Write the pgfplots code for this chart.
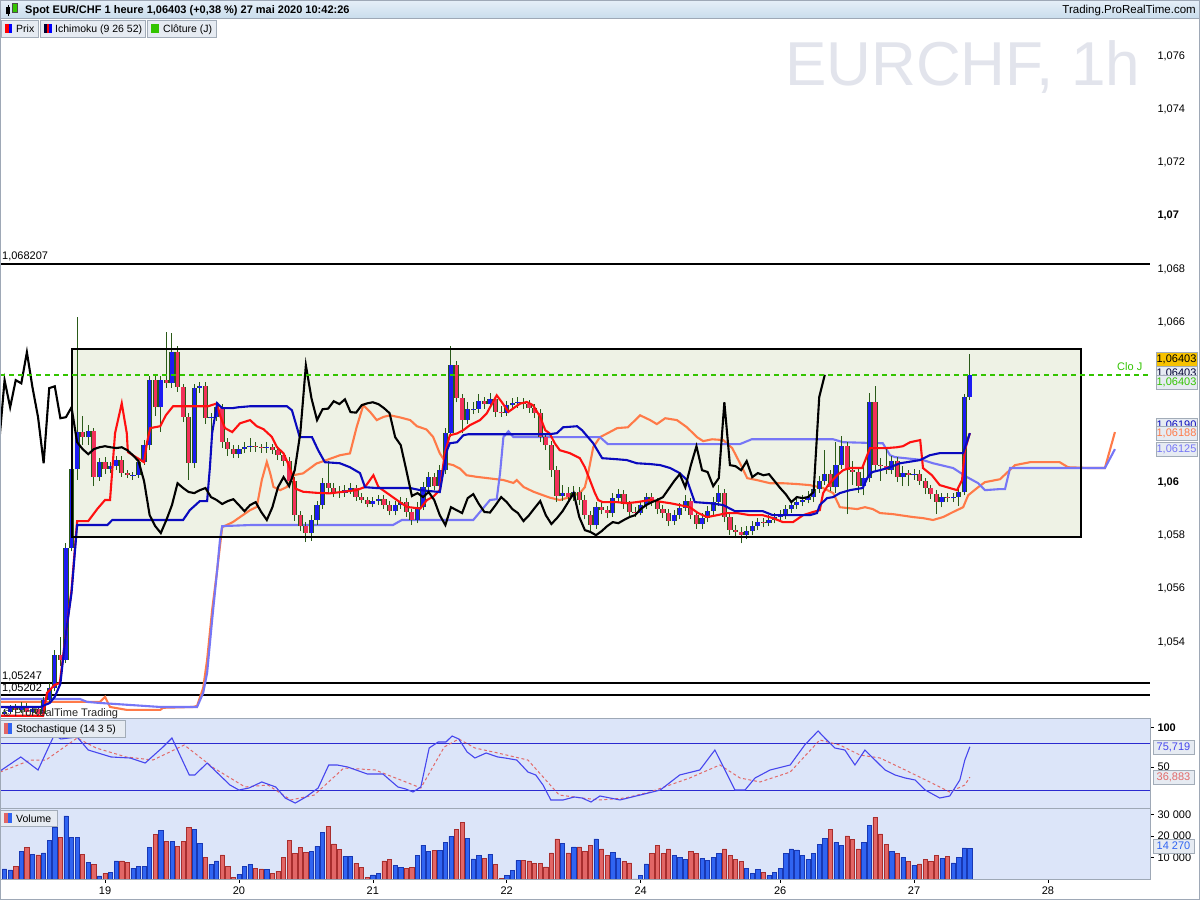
\documentclass[border=0pt]{standalone}
\usepackage{fontspec}
\setmainfont{Liberation Sans}
\usepackage{pgfplots}
\pgfplotsset{compat=1.18}
\usepackage{pgfplotstable}
\usepgfplotslibrary{fillbetween}
\newcommand\fs[1]{\fontsize{#1}{#1}\selectfont}

\definecolor{bgtop}{HTML}{F5F7FD}
\definecolor{bgbot}{HTML}{E2E9F9}
\definecolor{rectfill}{HTML}{EEF2E5}
\definecolor{cloud}{HTML}{DDE0EE}
\definecolor{cblue}{HTML}{1C1CF2}
\definecolor{cred}{HTML}{F2305A}
\definecolor{wick}{HTML}{2A5A18}
\definecolor{tenkan}{HTML}{FF1010}
\definecolor{kijun}{HTML}{0A0ABE}
\definecolor{ssa}{HTML}{FF7A48}
\definecolor{ssb}{HTML}{7676F6}
\definecolor{clo}{HTML}{33C400}
\definecolor{panelbg}{HTML}{DCE5F9}
\definecolor{frame}{HTML}{9EA8B6}
\definecolor{kcol}{HTML}{4646EE}
\definecolor{dcol}{HTML}{E26A6A}
\definecolor{lvl}{HTML}{2A2AD0}
\definecolor{vblue}{HTML}{3064F2}
\definecolor{vblueD}{HTML}{1838B4}
\definecolor{vred}{HTML}{E26666}
\definecolor{vredD}{HTML}{A82E2E}
\definecolor{hdrtop}{HTML}{E6EFF8}
\definecolor{hdrbot}{HTML}{C9DCEC}
\definecolor{boxfill}{HTML}{E6EBF2}
\definecolor{boxdraw}{HTML}{A2ACB8}
\definecolor{gold}{HTML}{F7C200}
\definecolor{wmark}{HTML}{E2E4EC}

% hourly bars: b = bar index (0 = 19 May 00:00), o h l c, d = 1 up / 0 down, v = volume
\pgfplotstableread{
b o h l c d v
-18 1.05130 1.05150 1.05118 1.05138 1 4650
-17 1.05138 1.05165 1.05128 1.05153 1 4200
-16 1.05153 1.05168 1.05135 1.05145 0 6000
-15 1.05145 1.05175 1.05132 1.05160 1 13000
-14 1.05160 1.05172 1.05125 1.05138 0 14700
-13 1.05138 1.05160 1.05126 1.05149 1 11500
-12 1.05149 1.05158 1.05118 1.05130 0 11200
-11 1.05130 1.05195 1.05122 1.05183 1 12100
-10 1.05183 1.05245 1.05170 1.05228 1 18000
-9 1.05228 1.05370 1.05215 1.05351 1 24000
-8 1.05351 1.05420 1.05310 1.05333 0 19400
-7 1.05333 1.05770 1.05320 1.05753 1 29300
-6 1.05753 1.06070 1.05740 1.06049 1 19400
-5 1.06049 1.06620 1.06010 1.06188 1 19400
-4 1.06188 1.06250 1.06140 1.06169 0 11500
-3 1.06169 1.06215 1.06140 1.06191 1 7800
-2 1.06191 1.06205 1.05985 1.06019 0 6800
-1 1.06019 1.06090 1.06005 1.06075 1 1400
0 1.06075 1.06095 1.06030 1.06049 0 2600
1 1.06049 1.06075 1.06035 1.06060 1 3100
2 1.06060 1.06100 1.06045 1.06083 1 8400
3 1.06083 1.06100 1.06020 1.06034 0 8400
4 1.06034 1.06045 1.06015 1.06026 0 7800
5 1.06026 1.06040 1.06010 1.06028 1 5000
6 1.06028 1.06090 1.06015 1.06075 1 5700
7 1.06075 1.06160 1.06065 1.06139 1 6000
8 1.06139 1.06400 1.06120 1.06383 1 14700
9 1.06383 1.06400 1.06250 1.06281 0 20800
10 1.06281 1.06400 1.06190 1.06383 1 22600
11 1.06383 1.06565 1.06355 1.06371 0 17300
12 1.06371 1.06560 1.06355 1.06488 1 17300
13 1.06488 1.06510 1.06340 1.06356 0 15200
14 1.06356 1.06370 1.06225 1.06244 0 17300
15 1.06244 1.06260 1.06010 1.06071 0 24000
16 1.06071 1.06370 1.06055 1.06353 1 23100
17 1.06353 1.06375 1.06335 1.06360 1 16600
18 1.06360 1.06375 1.06220 1.06240 0 9900
19 1.06240 1.06260 1.06180 1.06244 1 6800
20 1.06244 1.06300 1.06230 1.06281 1 8400
21 1.06281 1.06295 1.06130 1.06150 0 11200
22 1.06150 1.06165 1.06100 1.06124 0 5700
23 1.06124 1.06140 1.06090 1.06105 0 800
24 1.06105 1.06140 1.06090 1.06124 1 2200
25 1.06124 1.06150 1.06110 1.06131 1 5700
26 1.06131 1.06165 1.06115 1.06135 1 6800
27 1.06135 1.06150 1.06115 1.06131 0 5000
28 1.06131 1.06145 1.06110 1.06128 0 4650
29 1.06128 1.06150 1.06110 1.06131 1 4500
30 1.06131 1.06145 1.06105 1.06120 0 2600
31 1.06120 1.06135 1.06085 1.06101 0 3700
32 1.06101 1.06115 1.06060 1.06079 0 10100
33 1.06079 1.06095 1.05985 1.06004 0 18000
34 1.06004 1.06020 1.05855 1.05876 0 12000
35 1.05876 1.05890 1.05815 1.05835 0 14600
36 1.05835 1.05850 1.05775 1.05809 0 12400
37 1.05809 1.05875 1.05780 1.05858 1 13000
38 1.05858 1.05930 1.05840 1.05914 1 15200
39 1.05914 1.06015 1.05900 1.05996 1 21700
40 1.05996 1.06080 1.05960 1.05978 0 24500
41 1.05978 1.05995 1.05945 1.05963 0 16300
42 1.05963 1.05985 1.05940 1.05959 0 13800
43 1.05959 1.05990 1.05945 1.05970 1 10500
44 1.05970 1.05995 1.05955 1.05978 1 10500
45 1.05978 1.05990 1.05930 1.05944 0 7300
46 1.05944 1.05960 1.05920 1.05933 0 5400
47 1.05933 1.05945 1.05905 1.05918 0 800
48 1.05918 1.05945 1.05905 1.05929 1 1900
49 1.05929 1.05950 1.05915 1.05936 1 2600
50 1.05936 1.05950 1.05900 1.05914 0 8400
51 1.05914 1.05930 1.05875 1.05891 0 9200
52 1.05891 1.05930 1.05875 1.05914 1 6200
53 1.05914 1.05945 1.05900 1.05925 1 5400
54 1.05925 1.05940 1.05870 1.05888 0 5000
55 1.05888 1.05900 1.05840 1.05858 0 5400
56 1.05858 1.05925 1.05845 1.05906 1 11000
57 1.05906 1.06000 1.05895 1.05981 1 15800
58 1.05981 1.06040 1.05965 1.06019 1 12900
59 1.06019 1.06035 1.05970 1.05985 0 13300
60 1.05985 1.06065 1.05970 1.06045 1 13300
61 1.06045 1.06205 1.06030 1.06184 1 17100
62 1.06184 1.06511 1.06170 1.06439 1 19800
63 1.06439 1.06455 1.06300 1.06315 0 23100
64 1.06315 1.06330 1.06185 1.06233 0 26400
65 1.06233 1.06300 1.06220 1.06274 1 18900
66 1.06274 1.06300 1.06255 1.06276 1 9300
67 1.06276 1.06330 1.06260 1.06304 1 11000
68 1.06304 1.06320 1.06275 1.06293 0 9600
69 1.06293 1.06335 1.06280 1.06311 1 11500
70 1.06311 1.06325 1.06245 1.06263 0 6800
71 1.06263 1.06285 1.06245 1.06261 0 300
72 1.06261 1.06305 1.06250 1.06289 1 1700
73 1.06289 1.06315 1.06275 1.06296 1 4000
74 1.06296 1.06320 1.06280 1.06300 1 8700
75 1.06300 1.06315 1.06275 1.06293 0 8700
76 1.06293 1.06310 1.06260 1.06278 0 8400
77 1.06278 1.06295 1.06240 1.06259 0 7400
78 1.06259 1.06275 1.06150 1.06169 0 7400
79 1.06169 1.06185 1.06120 1.06139 0 5600
80 1.06139 1.06155 1.06020 1.06045 0 12100
81 1.06045 1.06060 1.05925 1.05948 0 18600
82 1.05948 1.05990 1.05930 1.05959 1 16700
83 1.05959 1.05980 1.05925 1.05944 0 12100
84 1.05944 1.05985 1.05930 1.05963 1 14900
85 1.05963 1.05980 1.05915 1.05933 0 14900
86 1.05933 1.05950 1.05860 1.05876 0 13000
87 1.05876 1.05890 1.05815 1.05839 0 15700
88 1.05839 1.05925 1.05825 1.05906 1 18600
89 1.05906 1.05925 1.05880 1.05895 0 14000
90 1.05895 1.05910 1.05865 1.05884 0 11000
91 1.05884 1.05960 1.05870 1.05940 1 12500
92 1.05940 1.05975 1.05925 1.05955 1 9800
93 1.05955 1.05970 1.05900 1.05918 0 8000
94 1.05918 1.05930 1.05870 1.05888 0 7500
95 1.05888 1.05905 1.05870 1.05886 0 0
96 1.05886 1.05930 1.05875 1.05914 1 1500
97 1.05914 1.05960 1.05900 1.05944 1 7000
98 1.05944 1.05960 1.05910 1.05925 0 12000
99 1.05925 1.05940 1.05880 1.05899 0 15500
100 1.05899 1.05915 1.05865 1.05884 0 12000
101 1.05884 1.05900 1.05835 1.05854 0 14000
102 1.05854 1.05895 1.05840 1.05876 1 11000
103 1.05876 1.05920 1.05860 1.05903 1 10000
104 1.05903 1.05950 1.05890 1.05929 1 9000
105 1.05929 1.05940 1.05860 1.05876 0 13000
106 1.05876 1.05890 1.05825 1.05843 0 12000
107 1.05843 1.05885 1.05825 1.05865 1 9500
108 1.05865 1.05910 1.05850 1.05891 1 8500
109 1.05891 1.05945 1.05875 1.05925 1 10000
110 1.05925 1.05990 1.05910 1.05959 1 12000
111 1.05959 1.05975 1.05850 1.05869 0 14000
112 1.05869 1.05885 1.05800 1.05820 0 11000
113 1.05820 1.05840 1.05790 1.05813 0 9000
114 1.05813 1.05830 1.05770 1.05801 0 8000
115 1.05801 1.05835 1.05785 1.05816 1 5000
116 1.05816 1.05855 1.05800 1.05835 1 2500
117 1.05835 1.05865 1.05820 1.05850 1 4500
118 1.05850 1.05865 1.05830 1.05846 0 3000
119 1.05846 1.05875 1.05835 1.05858 1 1500
120 1.05858 1.05885 1.05845 1.05869 1 3000
121 1.05869 1.05895 1.05855 1.05876 1 5000
122 1.05876 1.05915 1.05860 1.05899 1 12000
123 1.05899 1.05930 1.05885 1.05914 1 14000
124 1.05914 1.05945 1.05900 1.05925 1 13500
125 1.05925 1.05950 1.05910 1.05933 1 11000
126 1.05933 1.05965 1.05920 1.05944 1 9000
127 1.05944 1.05995 1.05925 1.05974 1 12000
128 1.05974 1.06025 1.05960 1.06004 1 16000
129 1.06004 1.06120 1.05990 1.06030 1 19000
130 1.06030 1.06045 1.05965 1.05981 0 23000
131 1.05981 1.06150 1.05960 1.06064 1 17000
132 1.06064 1.06175 1.06050 1.06135 1 15500
133 1.06135 1.06150 1.05880 1.06045 0 20000
134 1.06045 1.06080 1.05990 1.06038 0 18500
135 1.06038 1.06050 1.05960 1.05985 0 14000
136 1.05985 1.06060 1.05950 1.06015 1 17000
137 1.06015 1.06335 1.06000 1.06300 1 25000
138 1.06300 1.06360 1.06040 1.06064 0 28500
139 1.06064 1.06090 1.06005 1.06060 0 21000
140 1.06060 1.06130 1.06030 1.06045 0 16000
141 1.06045 1.06100 1.06030 1.06079 1 13000
142 1.06079 1.06095 1.06000 1.06019 0 12000
143 1.06019 1.06060 1.05985 1.06034 1 10000
144 1.06034 1.06045 1.05985 1.06026 0 8000
145 1.06026 1.06050 1.06010 1.06030 1 6500
146 1.06030 1.06045 1.05990 1.06004 0 7000
147 1.06004 1.06015 1.05955 1.05978 0 9000
148 1.05978 1.05990 1.05935 1.05955 0 8000
149 1.05955 1.05970 1.05880 1.05925 0 11000
150 1.05925 1.05960 1.05905 1.05944 1 9500
151 1.05944 1.05960 1.05925 1.05940 0 10500
152 1.05940 1.05960 1.05925 1.05944 1 7500
153 1.05944 1.05985 1.05910 1.05963 1 10000
154 1.05963 1.06330 1.05950 1.06319 1 14500
155 1.06319 1.06480 1.06310 1.06403 1 14270
}\ohlc

\pgfplotstableread{
x y
-18.8 1.05123
-11.1 1.05123
-10.4 1.05209
-9.0 1.05239
-8.1 1.05246
-7.0 1.05434
-6.0 1.05595
-5.0 1.05854
-3.0 1.05854
-1.4 1.05899
0.0 1.05933
0.9 1.05933
1.8 1.06184
3.0 1.06296
3.9 1.06184
4.1 1.06113
5.0 1.06101
7.0 1.06075
7.5 1.06146
8.1 1.06203
9.9 1.06210
10.9 1.06251
12.2 1.06285
18.5 1.06285
20.1 1.06296
20.6 1.06251
21.5 1.06203
22.8 1.06188
24.2 1.06221
26.0 1.06233
27.2 1.06210
28.4 1.06199
29.9 1.06170
30.8 1.06132
32.0 1.06108
32.8 1.06070
33.7 1.06020
34.1 1.05976
35.5 1.05964
37.9 1.05960
40.3 1.05958
42.7 1.05964
45.1 1.05970
46.6 1.05982
48.1 1.06026
49.0 1.05982
51.1 1.05951
52.3 1.05933
54.1 1.05907
56.5 1.05901
57.7 1.05933
58.8 1.05945
60.0 1.05970
60.9 1.06108
61.8 1.06176
63.1 1.06183
64.2 1.06195
65.4 1.06214
67.2 1.06233
68.4 1.06258
70.2 1.06326
71.1 1.06301
72.3 1.06264
73.5 1.06282
74.4 1.06295
75.6 1.06301
76.7 1.06289
78.0 1.06245
78.9 1.06195
79.7 1.06183
80.6 1.06146
81.5 1.06120
83.3 1.06109
85.1 1.06090
86.0 1.06056
86.9 1.06008
87.8 1.05959
88.4 1.05933
89.2 1.05925
91.8 1.05925
93.5 1.05921
95.3 1.05925
97.7 1.05933
100.0 1.05925
101.3 1.05921
103.0 1.05914
104.8 1.05906
106.3 1.05884
107.9 1.05869
109.7 1.05876
111.5 1.05884
113.3 1.05884
115.6 1.05876
117.9 1.05876
119.7 1.05865
121.5 1.05850
123.3 1.05850
125.1 1.05876
126.9 1.05888
128.1 1.05895
128.7 1.05959
129.6 1.05989
131.2 1.06026
132.3 1.06045
133.5 1.06053
135.7 1.06053
136.6 1.06101
137.1 1.06128
140.1 1.06128
141.9 1.06131
143.0 1.06135
144.3 1.06150
146.1 1.06158
146.6 1.06053
148.2 1.06026
149.6 1.05989
151.4 1.05978
152.7 1.05970
153.6 1.06008
154.1 1.06120
155.0 1.06184
}\tenkan

\pgfplotstableread{
x y
-18.8 1.05156
-11.6 1.05156
-9.9 1.05171
-9.0 1.05194
-8.0 1.05243
-7.0 1.05434
-6.0 1.05584
-5.0 1.05839
0.4 1.05839
1.3 1.05858
14.0 1.05858
15.2 1.05895
17.0 1.05929
18.3 1.05929
18.8 1.06056
19.2 1.06184
20.1 1.06296
21.0 1.06278
22.9 1.06278
23.8 1.06281
26.0 1.06285
32.6 1.06285
33.5 1.06270
34.9 1.06169
37.1 1.06169
38.2 1.06120
39.4 1.06075
42.1 1.06071
43.9 1.06056
45.7 1.06034
46.6 1.05981
48.7 1.05978
54.7 1.05978
56.5 1.05970
60.0 1.05963
61.3 1.06120
61.8 1.06146
63.1 1.06150
64.2 1.06176
65.1 1.06180
79.7 1.06180
81.0 1.06184
82.1 1.06206
84.6 1.06210
85.5 1.06195
87.5 1.06146
89.1 1.06090
91.8 1.06086
93.5 1.06083
95.3 1.06071
97.7 1.06068
99.5 1.06064
101.3 1.06053
103.0 1.06034
104.3 1.06008
105.7 1.05925
108.4 1.05921
110.8 1.05914
112.9 1.05891
117.9 1.05891
119.7 1.05876
126.3 1.05876
127.6 1.05884
128.1 1.05914
129.4 1.05940
130.5 1.05944
131.7 1.05959
133.5 1.05970
135.8 1.05978
136.7 1.06019
137.5 1.06038
138.9 1.06045
140.7 1.06056
142.5 1.06071
146.1 1.06083
147.8 1.06101
149.6 1.06109
153.8 1.06109
155.0 1.06184
}\kijun

\pgfplotstableread{
x y
-18.8 1.05175
-0.9 1.05175
0.0 1.05194
0.9 1.05156
3.9 1.05145
9.9 1.05145
10.4 1.05153
15.8 1.05156
16.5 1.05160
17.6 1.05228
18.3 1.05333
19.2 1.05520
20.1 1.05670
21.0 1.05831
22.9 1.05850
24.2 1.05869
26.0 1.05895
27.2 1.05907
28.1 1.06008
29.0 1.06076
29.6 1.06034
30.2 1.05982
31.4 1.05970
32.6 1.05982
33.7 1.06026
35.5 1.06033
37.9 1.06070
39.7 1.06083
42.1 1.06101
43.9 1.06108
45.1 1.06207
46.3 1.06289
47.5 1.06264
48.7 1.06233
49.9 1.06245
51.1 1.06251
52.9 1.06243
54.7 1.06233
55.9 1.06210
57.6 1.06198
58.8 1.06170
60.0 1.06108
61.2 1.06070
62.4 1.06064
63.6 1.06051
64.8 1.06026
66.6 1.06020
69.0 1.06014
71.4 1.06008
73.2 1.05997
73.8 1.06008
75.0 1.05982
76.8 1.05964
78.5 1.05951
79.7 1.05942
81.5 1.05933
83.3 1.05944
85.1 1.05959
86.0 1.05981
86.6 1.06034
87.5 1.06131
88.7 1.06169
90.1 1.06184
91.8 1.06203
93.7 1.06206
95.9 1.06251
97.7 1.06233
98.9 1.06218
100.4 1.06240
102.5 1.06233
104.3 1.06206
106.1 1.06169
107.2 1.06154
108.8 1.06161
110.8 1.06158
112.4 1.06128
113.8 1.06071
115.1 1.06015
116.8 1.06008
119.2 1.05996
121.5 1.05996
124.0 1.05993
126.3 1.05989
128.7 1.05978
130.5 1.05959
131.7 1.05906
133.0 1.05903
134.8 1.05899
136.2 1.05906
137.6 1.05899
138.9 1.05884
141.2 1.05880
144.8 1.05869
146.6 1.05865
148.4 1.05858
150.2 1.05869
152.0 1.05888
153.8 1.05906
154.7 1.05951
156.3 1.05978
157.7 1.06000
160.4 1.06011
163.1 1.06064
165.8 1.06075
171.1 1.06075
172.6 1.06056
176.5 1.06053
179.2 1.06053
181.0 1.06188
}\ssaT

\pgfplotstableread{
x y
-18.8 1.05186
-4.5 1.05186
-3.2 1.05175
-0.9 1.05171
9.9 1.05156
16.5 1.05156
17.6 1.05209
18.3 1.05284
19.2 1.05483
20.1 1.05670
20.6 1.05783
21.0 1.05835
26.0 1.05839
51.6 1.05839
53.2 1.05858
66.0 1.05858
67.8 1.05903
69.0 1.05933
70.2 1.05936
70.8 1.06034
71.4 1.06169
72.3 1.06191
73.2 1.06169
88.7 1.06169
90.1 1.06143
113.8 1.06143
115.9 1.06161
130.5 1.06161
132.3 1.06150
139.4 1.06146
140.7 1.06101
141.6 1.06094
146.6 1.06083
148.4 1.06071
152.0 1.06053
154.5 1.06019
156.5 1.05996
157.7 1.05970
160.4 1.05974
161.3 1.05974
162.2 1.06053
179.2 1.06053
181.0 1.06124
}\ssbT

\pgfplotsset{
  panel/.style={scale only axis, width=1150pt, anchor=south west,
    xmin=-18.82, xmax=187.28,
    axis line style={draw=frame, line width=0.8pt},
    tick align=outside, major tick length=4pt,
    tick style={black, line width=0.6pt},
    ytick pos=right, yticklabel pos=right,
    scaled y ticks=false,
    tick label style={font=\fs{11}},
    yticklabel style={anchor=west},
  },
}
\tikzset{
  valbox/.style={draw=boxdraw, fill=boxfill, inner sep=0pt,
    minimum width=41pt, minimum height=14pt, font=\fs{11}},
}

\begin{document}
\begin{tikzpicture}
\fill[white] (0pt,0pt) rectangle (1200pt,900pt);

% ---------------- price panel ----------------
\begin{axis}[panel, at={(0pt,182pt)}, height=699pt,
  ymin=1.051146, ymax=1.077389,
  axis background/.style={top color=bgtop, bottom color=bgbot},
  xtick=\empty,
  ytick={1.054,1.056,1.058,1.06,1.066,1.068,1.07,1.072,1.074,1.076},
  yticklabels={{1,054},{1,056},{1,058},{\textbf{1,06}},{1,066},{1,068},{\textbf{1,07}},{1,072},{1,074},{1,076}},
]
\fill[rectfill] (axis cs:-5.9,1.06500) rectangle (axis cs:174.9,1.05794);

\addplot[draw=none, name path=A] table {\ssaT};
\addplot[draw=none, name path=B] table {\ssbT};
\addplot[fill=cloud] fill between[of=A and B];

\addplot[black, line width=2pt] coordinates {(-18.82,1.068207) (187.28,1.068207)};
\addplot[black, line width=2pt] coordinates {(-18.82,1.05247) (187.28,1.05247)};
\addplot[black, line width=2pt] coordinates {(-18.82,1.05202) (187.28,1.05202)};

\addplot[ssa, line width=2.1pt] table {\ssaT};
\addplot[ssb, line width=2.1pt] table {\ssbT};

% candles
\addplot[quiver={u=0, v=\thisrow{h}-\thisrow{l}}, -, draw=wick, line width=1pt]
  table[x=b, y=l] {\ohlc};
\addplot[quiver={u=0, v=\thisrow{c}-\thisrow{o}}, -, draw=wick, line width=5.2pt]
  table[x=b, y=o] {\ohlc};
\addplot[quiver={u=0, v=\thisrow{c}-\thisrow{o}}, -, draw=cblue, line width=3.4pt,
  restrict expr to domain={\thisrow{d}}{1:1}] table[x=b, y=o] {\ohlc};
\addplot[quiver={u=0, v=\thisrow{c}-\thisrow{o}}, -, draw=cred, line width=3.4pt,
  restrict expr to domain={\thisrow{d}}{0:0}] table[x=b, y=o] {\ohlc};

\addplot[tenkan, line width=2.1pt] table {\tenkan};
\addplot[kijun, line width=2.1pt] table {\kijun};
% lagging line: closes shifted 26 bars back
\addplot[black, line width=2.1pt] table[x expr=\thisrow{b}-26, y=c] {\ohlc};

\draw[black, line width=2.5pt] (axis cs:-5.9,1.06500) rectangle (axis cs:174.9,1.05794);
\addplot[clo, line width=1.6pt, dash pattern=on 5pt off 4pt]
  coordinates {(-18.82,1.06403) (187.28,1.06403)};
\end{axis}

% ---------------- stochastic panel ----------------
\begin{axis}[panel, at={(0pt,92pt)}, height=90pt,
  ymin=-2.55, ymax=112.4,
  axis background/.style={fill=panelbg},
  xtick=\empty, ytick={50,100}, yticklabels={50,\textbf{100}},
]
\addplot[lvl, line width=1pt] coordinates {(-18.82,80) (187.28,80)};
\addplot[lvl, line width=1pt] coordinates {(-18.82,20) (187.28,20)};
\addplot[dcol, line width=1pt, dash pattern=on 3pt off 2.5pt] coordinates {
(-18.8,43.4) (-13.3,58.7) (-10.6,58.7) (-5,86.8) (-1.6,74.1) (3.8,62.6) (8.6,58.7)
(14.2,77.9) (19.5,48.5) (25.1,24.3) (29.2,26.8) (33.3,7.7) (37.5,14) (42.8,48.5)
(48.4,46) (53.9,30.7) (56.6,23) (60.8,75.4) (63.4,85.6) (66.3,74.1) (70.4,67.7)
(75.8,58.7) (81.4,14) (85.5,10.2) (88.7,7.7) (93.2,10.2) (97.7,17.9) (104.8,35.8)
(110.2,52.4) (113.8,35.8) (117.4,30.7) (122.8,43.4) (128.1,84.3) (131.7,77.9)
(135.3,65.1) (138.9,61.3) (143.4,46) (147.8,30.7) (151.4,17.9) (154.1,26.8) (155,36.9)};
\addplot[kcol, line width=1.1pt] coordinates {
(-18.8,44.7) (-15.1,62.6) (-12.0,46) (-9.1,90.7) (-7.9,85.6) (-5.0,88.1) (-3.0,71.5)
(1.1,62.6) (4.5,61.3) (7.2,54.9) (10.4,75.4) (12.0,86.8) (15.1,39.6) (16.1,39.6)
(18.3,54.9) (22.4,26.8) (24.0,20.4) (25.8,23) (28.1,30.7) (30.6,24.3) (32.3,10.2)
(34.1,3.8) (36.0,11.5) (38.2,23) (40.1,52.4) (41.6,52.4) (43.5,49.8) (47.0,40.9)
(49.8,40.9) (52.5,24.3) (53.9,21.7) (55.2,17.9) (56.6,24.3) (58.1,74.1) (59.7,81.7)
(61.1,81.7) (62.2,89.4) (63.4,85.6) (64.9,69) (66.3,61.3) (68.3,67.7) (70.4,62.6)
(71.7,61.3) (73.8,58.7) (75.8,43.4) (77.2,39.6) (78.5,26.8) (79.9,7.7) (82.1,7.7)
(84.1,11.5) (85.5,10.2) (87.1,5.1) (88.7,12.8) (92.3,7.7) (95.9,14) (99.5,20.4)
(103,39.6) (106.6,46) (109.3,71.5) (111.1,46) (112.9,20.4) (114.7,20.4) (116.5,35.8)
(119.2,46) (122.8,52.4) (125.4,77.9) (127.8,95.8) (129,86.8) (130.8,74.1) (132.6,71.5)
(134.4,52.4) (136.2,71.5) (138,58.7) (139.8,46) (141.6,39.6) (143.4,35.8) (145.2,33.2)
(147,20.4) (149.6,10.2) (151.4,12.8) (153.2,33.2) (154.1,58.7) (155,75.7)};
\end{axis}

% ---------------- volume panel ----------------
\begin{axis}[panel, at={(0pt,21pt)}, height=71pt,
  ymin=0, ymax=33015,
  axis background/.style={fill=panelbg},
  xtick pos=bottom,
  xtick={0,24,48,72,96,121,145,169},
  xticklabels={19,20,21,22,24,26,27,28},
  ytick={10000,20000,30000},
  yticklabels={{10 000},{20 000},{30 000}},
]
\addplot[ybar, bar width=4.2pt, bar shift=0pt, fill=vblue, draw=vblueD, line width=0.6pt,
  restrict expr to domain={\thisrow{d}}{1:1}] table[x=b, y=v] {\ohlc};
\addplot[ybar, bar width=4.2pt, bar shift=0pt, fill=vred, draw=vredD, line width=0.6pt,
  restrict expr to domain={\thisrow{d}}{0:0}] table[x=b, y=v] {\ohlc};
\end{axis}

% ---------------- decorations (pixel coordinates, y downwards) ----------------
\begin{scope}[x=1pt, y=-1pt, shift={(0pt,900pt)}]
  % header
  \shade[top color=hdrtop, bottom color=hdrbot] (0,0) rectangle (1200,18.5);
  \draw[frame, line width=0.8pt] (0,18.5) -- (1200,18.5);
  \fill[black] (6,7) rectangle (10,14); \draw[black] (8,5) -- (8,16);
  \fill[clo] (12,3) rectangle (17,12); \draw[black!70, line width=0.6pt] (12,3) rectangle (17,12);
  \node[anchor=base west, inner sep=0pt, font=\fs{11}\bfseries] at (25,14)
    {Spot EUR/CHF 1 heure 1,06403 (+0,38 \%) 27 mai 2020 10:42:26};
  \node[anchor=base east, inner sep=0pt, font=\fs{11.5}] at (1196,14) {Trading.ProRealTime.com};

  % legend row
  \draw[boxdraw, fill=boxfill] (1,20) rectangle (38,37);
  \fill[red] (5,24) rectangle (8.5,33); \fill[blue] (8.5,24) rectangle (12,33);
  \node[anchor=base west, inner sep=0pt, font=\fs{10.5}] at (16,33) {Prix};
  \draw[boxdraw, fill=boxfill] (40,20) rectangle (145,37);
  \fill[black!80!blue] (44,24) rectangle (46.5,33); \fill[red] (46.5,24) rectangle (49,33);
  \fill[blue] (49,24) rectangle (51.5,33);
  \node[anchor=base west, inner sep=0pt, font=\fs{10.5}] at (55,33) {Ichimoku (9 26 52)};
  \draw[boxdraw, fill=boxfill] (147,20) rectangle (216,37);
  \fill[clo] (151,24) rectangle (159,33);
  \node[anchor=base west, inner sep=0pt, font=\fs{10.5}] at (163,33) {Clôture (J)};

  % watermark
  \node[anchor=base west, inner sep=0pt, text=wmark, font=\fs{62}] at (785,86) {EURCHF, 1h};

  % level labels
  \node[anchor=base west, inner sep=0pt, font=\fs{11}] at (2,260) {1,068207};
  \node[anchor=base west, inner sep=0pt, font=\fs{11}] at (2,680) {1,05247};
  \node[anchor=base west, inner sep=0pt, font=\fs{11}] at (2,692) {1,05202};
  \node[anchor=base west, inner sep=0pt, font=\fs{11}, text=black!85] at (3,717) {© ProRealTime Trading};
  \node[anchor=base west, inner sep=0pt, font=\fs{11}, text=clo] at (1117,371) {Clo J};

  % value boxes
  \node[valbox, text=black!80!blue] at (1176.5,373) {1,06403};
  \node[valbox, fill=gold, text=black] at (1176.5,359.5) {1,06403};
  \node[valbox, text=clo] at (1176.5,382) {1,06403};
  \node[valbox, text=kijun] at (1176.5,425) {1,06190};
  \node[valbox, text=ssa] at (1176.5,433) {1,06188};
  \node[valbox, text=ssb] at (1176.5,449.5) {1,06125};
  \node[valbox, text=kcol] at (1173.5,747) {75,719};
  \node[valbox, text=dcol] at (1173.5,777) {36,883};
  \node[valbox, text=vblue] at (1173.5,846) {14 270};

  % stochastic / volume titles
  \draw[boxdraw, fill=boxfill] (0,720) rectangle (125,737);
  \fill[vred] (4,723) rectangle (8,734); \fill[vblue] (8,723) rectangle (12,734);
  \node[anchor=base west, inner sep=0pt, font=\fs{10.5}] at (16,733) {Stochastique (14 3 5)};
  \draw[boxdraw, fill=boxfill] (0,810) rectangle (57,826);
  \fill[vred] (4,813) rectangle (8,823); \fill[vblue] (8,813) rectangle (12,823);
  \node[anchor=base west, inner sep=0pt, font=\fs{10.5}] at (16,823) {Volume};

  \draw[frame, line width=0.8pt] (0.4,0) rectangle (1199.6,899.6);
\end{scope}
\pgfresetboundingbox
\path[use as bounding box] (0pt,0pt) rectangle (1200pt,900pt);
\end{tikzpicture}
\end{document}
